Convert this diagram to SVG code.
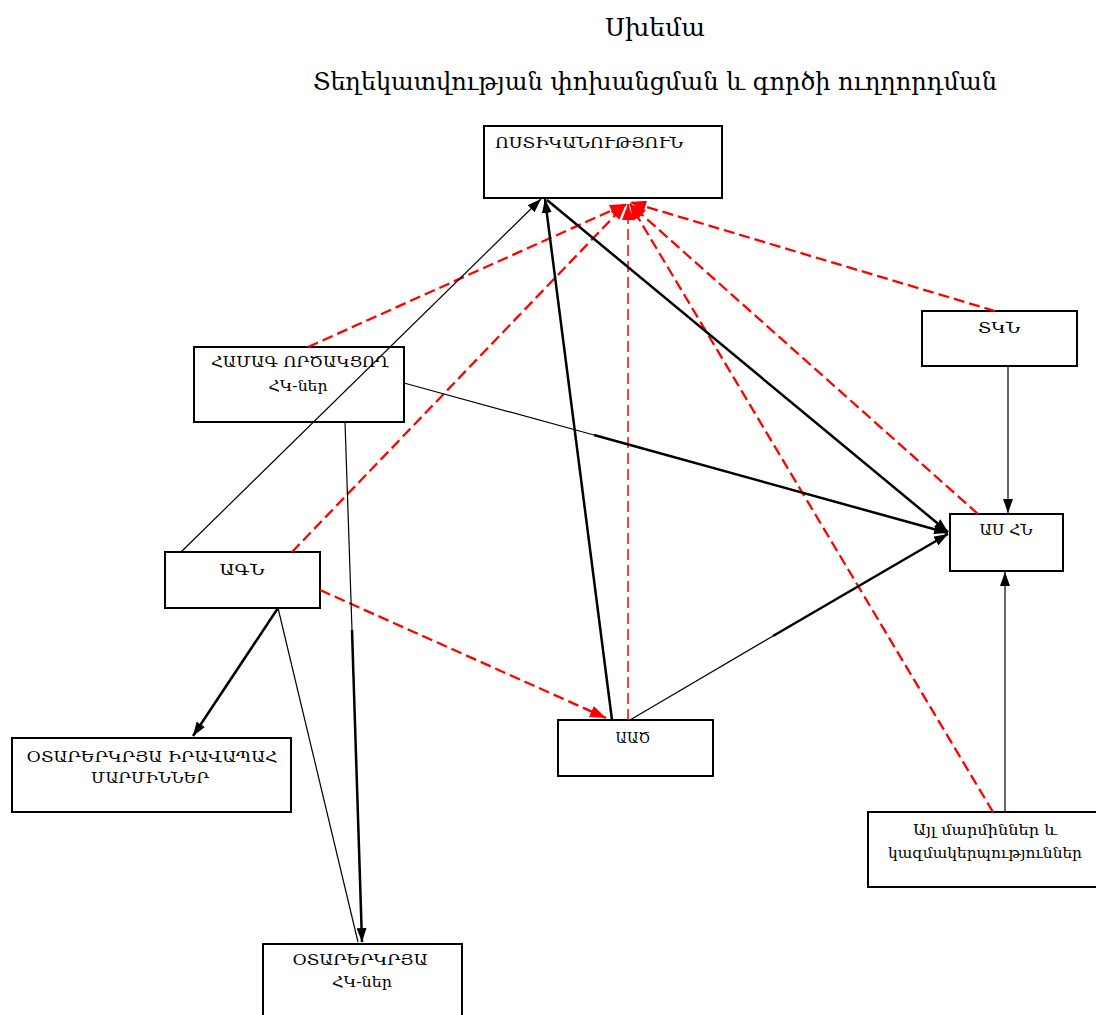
<svg xmlns="http://www.w3.org/2000/svg" width="1096" height="1015" viewBox="0 0 1096 1015">
<defs>
<style>
.box{fill:#fff;stroke:#000;stroke-width:2}
.lbl{font-family:"DejaVu Serif","Noto Sans",serif;font-size:14px;fill:#000}
.ttl{font-family:"DejaVu Serif","Noto Sans",serif;font-size:24px;fill:#000}
.thin{stroke:#000;stroke-width:1.2;fill:none}
.thick{stroke:#000;stroke-width:2.5;fill:none}
.red{stroke:#f00;stroke-width:2.3;fill:none;stroke-dasharray:11 5}
.redthin{stroke:#f00;stroke-width:1.5;fill:none;stroke-dasharray:11 5}
</style>
<marker id="ab" markerUnits="userSpaceOnUse" markerWidth="14" markerHeight="10" refX="14" refY="5" orient="auto"><path d="M0,0 L14,5 L0,10 z" fill="#000"/></marker>
<marker id="ar" markerUnits="userSpaceOnUse" markerWidth="16" markerHeight="12" refX="16" refY="6" orient="auto"><path d="M0,0 L16,6 L0,12 z" fill="#f00"/></marker>
</defs>
<rect width="1096" height="1015" fill="#fff"/>
<text class="ttl" x="655" y="36" text-anchor="middle" textLength="100" lengthAdjust="spacingAndGlyphs">Սխեմա</text>
<text class="ttl" x="655" y="90" text-anchor="middle" textLength="684" lengthAdjust="spacingAndGlyphs">Տեղեկատվության փոխանցման և գործի ուղղորդման</text>

<g id="police"><rect class="box" x="484" y="126" width="238" height="72"/><text class="lbl" x="495" y="148" textLength="188" lengthAdjust="spacingAndGlyphs">ՈՍՏԻԿԱՆՈՒԹՅՈՒՆ</text></g>
<g id="ngo"><rect class="box" x="194" y="347" width="210" height="75"/><text class="lbl" x="300" y="367" text-anchor="middle" textLength="178" lengthAdjust="spacingAndGlyphs">ՀԱՄԱԳ ՈՐԾԱԿՑՈՂ</text><text class="lbl" x="298" y="391" text-anchor="middle" textLength="59" lengthAdjust="spacingAndGlyphs">ՀԿ-ներ</text></g>
<g id="tkn"><rect class="box" x="922" y="311" width="155" height="55"/><text class="lbl" x="999" y="333" text-anchor="middle" textLength="42" lengthAdjust="spacingAndGlyphs">ՏԿՆ</text></g>
<g id="ashn"><rect class="box" x="950" y="514" width="113" height="57"/><text class="lbl" x="1006" y="535" text-anchor="middle" textLength="53" lengthAdjust="spacingAndGlyphs">ԱՍ ՀՆ</text></g>
<g id="agn"><rect class="box" x="165" y="552" width="155" height="56"/><text class="lbl" x="242" y="575" text-anchor="middle" textLength="45" lengthAdjust="spacingAndGlyphs">ԱԳՆ</text></g>
<g id="foreign-law"><rect class="box" x="12" y="738" width="279" height="74"/><text class="lbl" x="152" y="762" text-anchor="middle" textLength="251" lengthAdjust="spacingAndGlyphs">ՕՏԱՐԵՐԿՐՅԱ ԻՐԱՎԱՊԱՀ</text><text class="lbl" x="150" y="783" text-anchor="middle" textLength="118" lengthAdjust="spacingAndGlyphs">ՄԱՐՄԻՆՆԵՐ</text></g>
<g id="aac"><rect class="box" x="558" y="720" width="155" height="56"/><text class="lbl" x="633" y="743" text-anchor="middle" textLength="35" lengthAdjust="spacingAndGlyphs">ԱԱԾ</text></g>
<g id="other"><rect class="box" x="868" y="812" width="235" height="75"/><text class="lbl" x="985" y="835" text-anchor="middle" textLength="144" lengthAdjust="spacingAndGlyphs">Այլ մարմիններ և</text><text class="lbl" x="985" y="858" text-anchor="middle" textLength="194" lengthAdjust="spacingAndGlyphs">կազմակերպություններ</text></g>
<g id="foreign-ngo"><rect class="box" x="263" y="944" width="199" height="80"/><text class="lbl" x="360" y="965" text-anchor="middle" textLength="135" lengthAdjust="spacingAndGlyphs">ՕՏԱՐԵՐԿՐՅԱ</text><text class="lbl" x="362" y="987" text-anchor="middle" textLength="60" lengthAdjust="spacingAndGlyphs">ՀԿ-ներ</text></g>

<g id="connectors">
<line class="red" x1="308" y1="347" x2="626" y2="204" marker-end="url(#ar)"/>
<line class="red" x1="292" y1="552" x2="626" y2="204" marker-end="url(#ar)"/>
<line class="redthin" x1="628" y1="720" x2="628" y2="204" marker-end="url(#ar)"/>
<line class="red" x1="978" y1="514" x2="630" y2="204" marker-end="url(#ar)"/>
<line class="red" x1="995" y1="311" x2="630" y2="202" marker-end="url(#ar)"/>
<line class="red" x1="993" y1="812" x2="630" y2="204" marker-end="url(#ar)"/>
<line class="red" x1="320" y1="590" x2="606" y2="718" marker-end="url(#ar)"/>

<line class="thin" x1="181" y1="552" x2="541" y2="199" marker-end="url(#ab)"/>
<line class="thick" x1="612" y1="720" x2="545" y2="199" marker-end="url(#ab)"/>
<line class="thick" x1="547" y1="200" x2="948" y2="532" marker-end="url(#ab)"/>
<line class="thin" x1="404" y1="383" x2="594" y2="435"/>
<line class="thick" x1="594" y1="435" x2="948" y2="533" marker-end="url(#ab)"/>
<line class="thin" x1="630" y1="720" x2="773" y2="636"/>
<line class="thick" x1="773" y1="636" x2="948" y2="534" marker-end="url(#ab)"/>
<line class="thin" x1="345" y1="422" x2="352" y2="630"/>
<line class="thick" x1="352" y1="630" x2="362" y2="942" marker-end="url(#ab)"/>
<line class="thick" x1="278" y1="608" x2="193" y2="736" marker-end="url(#ab)"/>
<line class="thin" x1="278" y1="608" x2="358" y2="942"/>
<line class="thin" x1="1008" y1="366" x2="1008" y2="513" marker-end="url(#ab)"/>
<line class="thin" x1="1005" y1="812" x2="1005" y2="572" marker-end="url(#ab)"/>
</g>
</svg>
